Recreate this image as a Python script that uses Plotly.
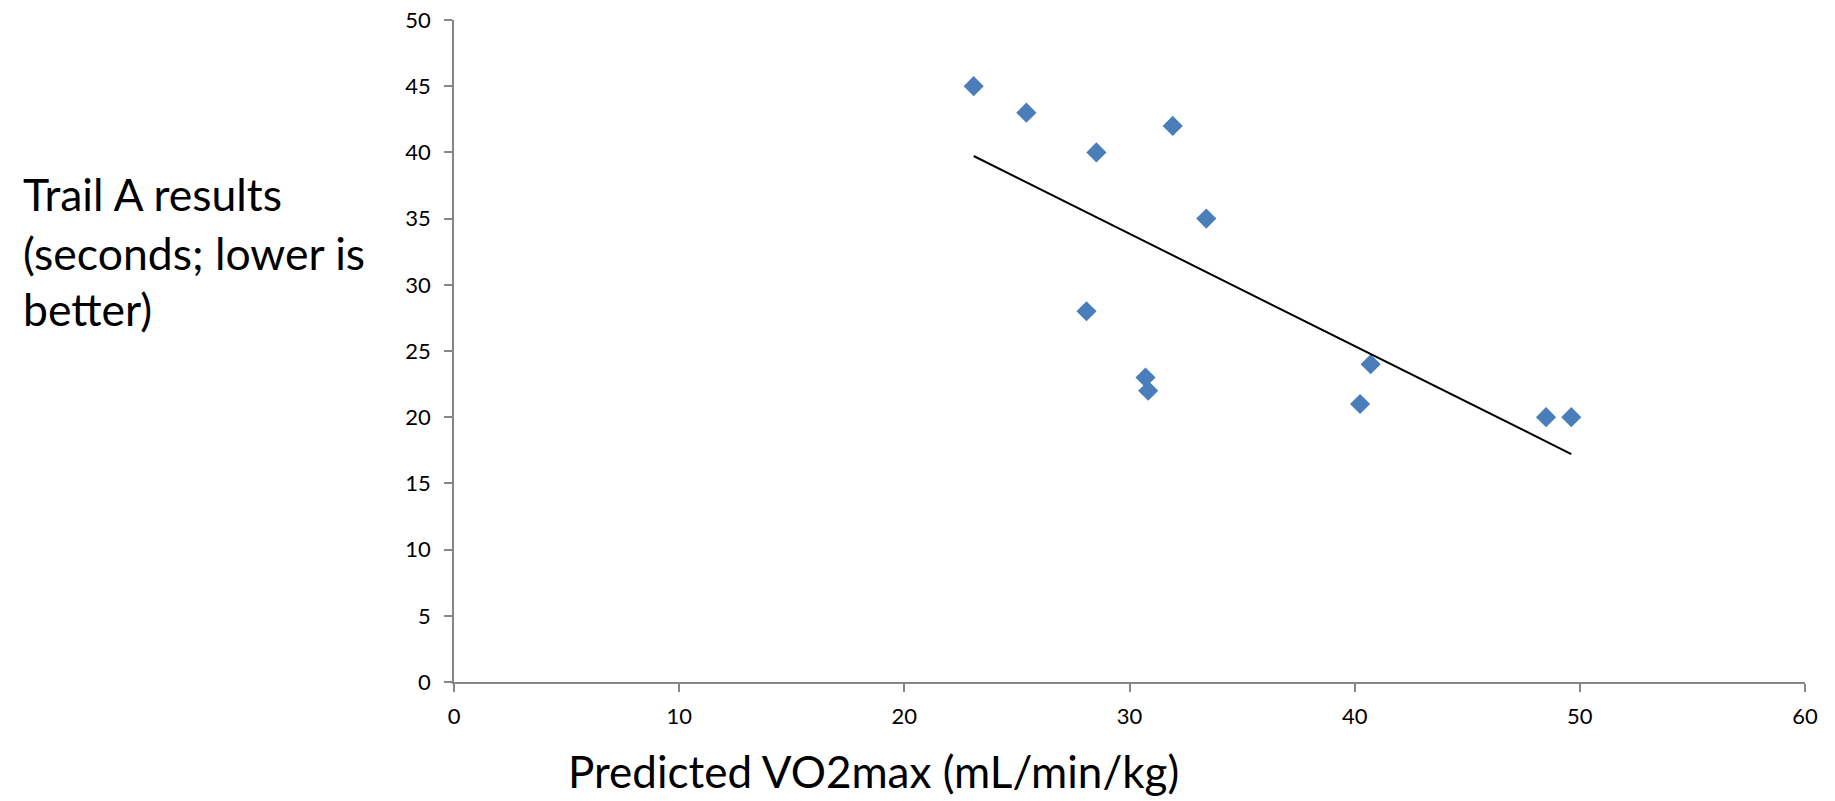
import numpy as np
import plotly.graph_objects as go

# Data
vo2max = [23.08, 25.42, 28.53, 31.92, 33.41, 28.09, 30.71, 30.83, 40.24, 40.71, 48.5, 49.62]
trail_a = [45, 43, 40, 42, 35, 28, 23, 22, 21, 24, 20, 20]
x_ticks = [0, 10, 20, 30, 40, 50, 60]
y_ticks = [0, 5, 10, 15, 20, 25, 30, 35, 40, 45, 50]
x_title = "Predicted VO2max (mL/min/kg)"
y_title_lines = ["Trail A results", "(seconds; lower is", "better)"]

W, H = 1835, 801
# target plot area in window pixels
PL, PR, PT, PB = 453.5, 1804.7, 20, 682.3
ML, MR, MT, MB = PL, W - PR, PT, H - PB
PW, PH = PR - PL, PB - PT

def px_x(px):
    return (px - PL) / PW

def px_y(py):
    return (PB - py) / PH

# linear trendline (least squares)
slope, intercept = np.polyfit(vo2max, trail_a, 1)
tx = np.array([min(vo2max), max(vo2max)])
ty = slope * tx + intercept

FONT = "Lato"
fig = go.Figure()
fig.add_trace(go.Scatter(
    x=vo2max, y=trail_a, mode="markers",
    marker=dict(symbol="diamond", size=15.5, color="#4A7EBB", line=dict(width=0)),
    showlegend=False, hoverinfo="x+y", cliponaxis=False))
fig.add_trace(go.Scatter(
    x=tx, y=ty, mode="lines", line=dict(color="black", width=2),
    showlegend=False, hoverinfo="skip"))

axis_common = dict(
    showgrid=False, zeroline=False, showline=True, linecolor="#868686", linewidth=1.5,
    ticks="outside", ticklen=8, tickcolor="#868686", tickwidth=1.5, automargin=False,
    ticklabeloverflow="allow",
    tickfont=dict(family=FONT, size=22, color="black"),
)
fig.update_xaxes(range=[0, 60], tickvals=x_ticks, ticklabelstandoff=6, **axis_common)
fig.update_yaxes(range=[0, 50], tickvals=y_ticks, ticklabelstandoff=9, **axis_common)

annotations = []
baselines = [214, 273, 329]
TS = 44.5
for line, b in zip(y_title_lines, baselines):
    annotations.append(dict(
        text=line, xref="paper", yref="paper", x=px_x(20), y=px_y(b - 0.45 * TS),
        xanchor="left", yanchor="middle", showarrow=False,
        font=dict(family=FONT, size=TS, color="black")))
annotations.append(dict(
    text=x_title, xref="paper", yref="paper", x=px_x(873), y=px_y(787 - 0.36 * 44),
    xanchor="center", yanchor="middle", showarrow=False,
    font=dict(family=FONT, size=44, color="black")))

fig.update_layout(
    width=W, height=H,
    margin=dict(l=ML, r=MR, t=MT, b=MB),
    paper_bgcolor="white", plot_bgcolor="white",
    annotations=annotations,
)
fig.write_html("out.html",
               config={"displayModeBar": False},
               post_script="document.body.style.margin='0';document.body.style.overflow='hidden';")
